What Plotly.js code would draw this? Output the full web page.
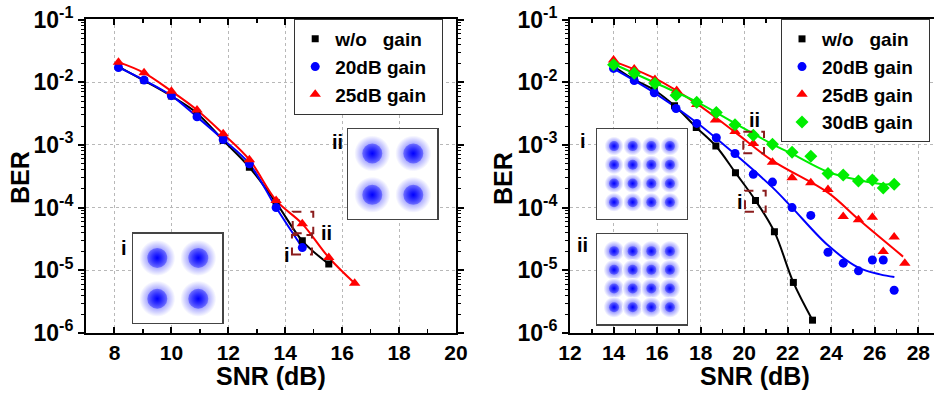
<!DOCTYPE html>
<html>
<head>
<meta charset="utf-8">
<script src="https://cdn.plot.ly/plotly-3.0.1.min.js"></script>
<style>html,body{margin:0;padding:0;background:#fff;}#chart{width:934px;height:396px;}</style>
</head>
<body>
<div id="chart"></div>
<script>
// ---------- Left panel data (SNR dB, BER) ----------
const leftWoX   = [8.14, 9.04, 10.0, 10.9, 11.82, 12.74, 13.68, 14.6, 15.53];
const leftWoY   = [0.0178, 0.0106, 0.0060, 0.0032, 0.00118, 4.4e-4, 1.2e-4, 2.95e-5, 1.26e-5];
const left20X   = [8.14, 9.04, 10.0, 10.9, 11.82, 12.74, 13.68, 14.6];
const left20Y   = [0.0172, 0.0108, 0.0061, 0.0028, 0.00122, 5.0e-4, 1.0e-4, 2.3e-5];
const left25X   = [8.14, 9.04, 10.0, 10.9, 11.82, 12.74, 13.68, 14.6, 15.53, 16.44];
const left25Y   = [0.0209, 0.0141, 0.0072, 0.0036, 0.0015, 5.8e-4, 1.3e-4, 5.5e-5, 1.6e-5, 6.2e-6];

// ---------- Right panel data ----------
const rightWoX  = [14.0, 14.95, 15.87, 16.8, 17.8, 18.7, 19.6, 20.52, 21.39, 22.26, 23.14];
const rightWoY  = [0.018, 0.011, 0.0075, 0.0042, 0.0019, 9.6e-4, 3.6e-4, 1.3e-4, 4.1e-5, 6.4e-6, 1.6e-6];
const right20X  = [14.0, 14.95, 15.87, 16.87, 17.82, 18.72, 19.58, 20.42, 21.3, 22.2, 23.06, 23.85, 24.55, 25.25, 25.89, 26.39, 26.89];
const right20Y  = [0.0166, 0.0106, 0.0068, 0.0038, 0.0022, 0.0013, 7.3e-4, 3.4e-4, 2.55e-4, 1.0e-4, 7.5e-5, 1.94e-5, 1.3e-5, 9.8e-6, 1.46e-5, 1.46e-5, 4.8e-6];
const right25X  = [14.0, 14.95, 15.9, 16.9, 17.82, 18.68, 19.58, 20.42, 21.3, 22.2, 23.06, 23.85, 24.55, 25.25, 25.89, 26.39, 26.89, 27.38];
const right25Y  = [0.0225, 0.0163, 0.011, 0.0074, 0.0044, 0.0025, 0.00163, 0.00105, 5.3e-4, 3.0e-4, 2.5e-4, 1.95e-4, 7.2e-5, 6.4e-5, 7.0e-5, 2.0e-5, 3.4e-5, 1.3e-5];
const right30X  = [14.0, 14.95, 15.9, 16.87, 17.82, 18.72, 19.58, 20.42, 21.3, 22.2, 23.06, 23.85, 24.55, 25.25, 25.89, 26.39, 26.89];
const right30Y  = [0.019, 0.0139, 0.0095, 0.0062, 0.0048, 0.0033, 0.0021, 0.00143, 0.00102, 7.6e-4, 6.6e-4, 3.5e-4, 3.3e-4, 2.65e-4, 2.75e-4, 2.05e-4, 2.35e-4];

// fitted curves
const fit20X = [14.0, 15.9, 17.8, 19.6, 21.3, 22.2, 23.85, 25.25, 26.24, 26.9];
const fit20Y = [0.0165, 0.0067, 0.0023, 7.0e-4, 2.1e-4, 1.0e-4, 2.5e-5, 1.1e-5, 8.6e-6, 7.8e-6];
const fit25X = [14.0, 15.9, 17.8, 19.58, 21.3, 23.85, 25.25, 27.3];
const fit25Y = [0.0215, 0.0115, 0.0046, 0.0016, 5.6e-4, 1.73e-4, 6.5e-5, 1.65e-5];
const fit30X = [14.0, 15.9, 17.8, 19.58, 21.35, 22.2, 23.85, 25.25, 26.39, 26.9];
const fit30Y = [0.0195, 0.0098, 0.0049, 0.0022, 1.0e-3, 7.2e-4, 3.7e-4, 2.75e-4, 2.35e-4, 2.4e-4];

// tick labels
const yTickVals = [1e-6, 1e-5, 1e-4, 1e-3, 1e-2, 1e-1];
const yTickText = ['10<sup>-6</sup>', '10<sup>-5</sup>', '10<sup>-4</sup>', '10<sup>-3</sup>', '10<sup>-2</sup>', '10<sup>-1</sup>'];

// legend labels and axis titles
const labelWo = 'w/o\u00a0\u00a0\u00a0gain\u00a0\u00a0';
const label20 = '20dB gain\u00a0\u00a0';
const label25 = '25dB gain\u00a0\u00a0';
const label30 = '30dB gain\u00a0\u00a0';
const xTitle = 'SNR (dB)';
const yTitle = 'BER';

// constellation ideal points
const qpskI = [-1, 1, -1, 1];
const qpskQ = [1, 1, -1, -1];
const qam16I = [-3, -1, 1, 3, -3, -1, 1, 3, -3, -1, 1, 3, -3, -1, 1, 3];
const qam16Q = [3, 3, 3, 3, 1, 1, 1, 1, -1, -1, -1, -1, -3, -3, -3, -3];

const BLACK = '#000000', BLUE = '#0000ff', RED = '#ff0000', GREEN = '#00ee00';
const FONT = 'Liberation Sans, Arial, sans-serif';

const traces = [];
function addLine(x, y, color, xa, ya) {
  traces.push({x, y, type: 'scatter', mode: 'lines', line: {color, width: 2, shape: 'spline', smoothing: 1},
    xaxis: xa, yaxis: ya, showlegend: false, hoverinfo: 'skip'});
}
function addMarkers(x, y, color, symbol, size, name, xa, ya, legend) {
  traces.push({x, y, type: 'scatter', mode: 'markers', name,
    marker: {color, symbol, size, line: {width: 0}}, xaxis: xa, yaxis: ya, legend});
}
// left lines
addLine(leftWoX, leftWoY, BLACK, 'x', 'y');
addLine(left20X, left20Y, BLUE, 'x', 'y');
addLine(left25X, left25Y, RED, 'x', 'y');
addMarkers(leftWoX, leftWoY, BLACK, 'square', 7, labelWo, 'x', 'y', 'legend');
addMarkers(left20X, left20Y, BLUE, 'circle', 9, label20, 'x', 'y', 'legend');
addMarkers(left25X, left25Y, RED, 'triangle-up', 10, label25, 'x', 'y', 'legend');
// right lines
addLine(rightWoX, rightWoY, BLACK, 'x2', 'y2');
addLine(fit20X, fit20Y, BLUE, 'x2', 'y2');
addLine(fit25X, fit25Y, RED, 'x2', 'y2');
addLine(fit30X, fit30Y, GREEN, 'x2', 'y2');
addMarkers(rightWoX, rightWoY, BLACK, 'square', 7, labelWo, 'x2', 'y2', 'legend2');
addMarkers(right20X, right20Y, BLUE, 'circle', 9, label20, 'x2', 'y2', 'legend2');
addMarkers(right25X, right25Y, RED, 'triangle-up', 10, label25, 'x2', 'y2', 'legend2');
addMarkers(right30X, right30Y, GREEN, 'diamond', 10, label30, 'x2', 'y2', 'legend2');

// constellation insets: radial gradient -> gradient.color is the centre colour, marker.color the rim
function addBlobs(I, Q, xa, ya, outer, inner) {
  traces.push({x: I, y: Q, type: 'scatter', mode: 'markers', xaxis: xa, yaxis: ya, showlegend: false, hoverinfo: 'skip',
    marker: {size: outer, color: '#ffffff', gradient: {type: 'radial', color: '#4a4aff'}, line: {width: 0}}});
  traces.push({x: I, y: Q, type: 'scatter', mode: 'markers', xaxis: xa, yaxis: ya, showlegend: false, hoverinfo: 'skip',
    marker: {size: inner, color: 'rgba(50,50,255,0.5)', gradient: {type: 'radial', color: 'rgba(0,0,255,1)'}, line: {width: 0}}});
}
addBlobs(qpskI, qpskQ, 'x3', 'y3', 36, 20);
addBlobs(qpskI, qpskQ, 'x4', 'y4', 36, 20);
addBlobs(qam16I, qam16Q, 'x5', 'y5', 19, 10);
addBlobs(qam16I, qam16Q, 'x6', 'y6', 21, 10);

const tickFontX = {family: FONT, size: 21, color: '#000', weight: 'bold'};
const tickFontY = {family: FONT, size: 23, color: '#000', weight: 'bold'};
const titleFont = {family: FONT, size: 25, color: '#000', weight: 'bold'};

function xAxis(domain, range, anchor) {
  return {domain, range, anchor, dtick: 2, tick0: 0, ticks: 'inside', ticklen: 6, tickwidth: 2, tickcolor: '#000',
    minor: {dtick: 1, tick0: 0, ticks: 'inside', ticklen: 3.5, tickwidth: 1.5, tickcolor: '#000', showgrid: false},
    showline: true, linewidth: 2, linecolor: '#000', mirror: 'ticks', zeroline: false,
    showgrid: true, gridcolor: '#b8b8b8', griddash: 'dot', gridwidth: 1,
    ticklabeloverflow: 'allow', tickfont: tickFontX};
}
function yAxis(domain, anchor, mirror) {
  return {domain, anchor, type: 'log', range: [-6.0005, -0.9995], tickmode: 'array', tickvals: yTickVals, ticktext: yTickText,
    ticks: 'outside', ticklen: 6, tickwidth: 2, tickcolor: '#000',
    minor: {ticks: 'outside', ticklen: 3, tickwidth: 1, tickcolor: '#000', dtick: 'D1', showgrid: false},
    showline: true, linewidth: 2, linecolor: '#000', mirror, zeroline: false,
    showgrid: true, gridcolor: '#b8b8b8', griddash: 'dot', gridwidth: 1,
    ticklabeloverflow: 'allow', tickfont: tickFontY};
}
function insetAxis(domain, range, anchor) {
  return {domain, range, anchor, showgrid: false, zeroline: false, showticklabels: false, ticks: '',
    showline: true, mirror: true, linecolor: '#444', linewidth: 1.5, fixedrange: true};
}

const labelFont = {family: FONT, size: 20, color: '#000', weight: 'bold'};
const annotations = [
  ['i', 0.1328, 0.3737], ['ii', 0.3611, 0.6422], ['ii', 0.3501, 0.4116], ['i', 0.3070, 0.3561],
  ['i', 0.6240, 0.6450], ['ii', 0.6240, 0.3810], ['ii', 0.8073, 0.6970], ['i', 0.7923, 0.4907]
].map(([t, x, y]) => ({text: t, x, y, xref: 'paper', yref: 'paper', showarrow: false,
  font: labelFont, xanchor: 'center', yanchor: 'middle'}));
// axis titles
annotations.push({text: xTitle, x: 271 / 934, y: 1 - 376 / 396, xref: 'paper', yref: 'paper', showarrow: false, font: titleFont, xanchor: 'center', yanchor: 'middle'});
annotations.push({text: xTitle, x: 755 / 934, y: 1 - 376 / 396, xref: 'paper', yref: 'paper', showarrow: false, font: titleFont, xanchor: 'center', yanchor: 'middle'});
annotations.push({text: yTitle, x: 20 / 934, y: 1 - 178 / 396, xref: 'paper', yref: 'paper', showarrow: false, textangle: -90, font: titleFont, xanchor: 'center', yanchor: 'middle'});
annotations.push({text: yTitle, x: 503 / 934, y: 1 - 178 / 396, xref: 'paper', yref: 'paper', showarrow: false, textangle: -90, font: titleFont, xanchor: 'center', yanchor: 'middle'});

const yDom = [0.1591, 0.9508];
const layout = {
  width: 934, height: 396,
  margin: {l: 0, r: 0, t: 0, b: 0},
  paper_bgcolor: '#fff', plot_bgcolor: '#fff',
  font: {family: FONT, color: '#000'},
  xaxis: xAxis([0.0921, 0.4882], [7, 20], 'y'),
  yaxis: yAxis(yDom, 'x', 'ticks'),
  xaxis2: xAxis([0.6103, 1], [12, 28.72], 'y2'),
  yaxis2: yAxis(yDom, 'x2', false),
  xaxis3: insetAxis([0.1427, 0.2380], [-2.17, 2.17], 'y3'),
  yaxis3: insetAxis([0.1851, 0.4091], [-2.17, 2.17], 'x3'),
  xaxis4: insetAxis([0.3729, 0.4682], [-2.17, 2.17], 'y4'),
  yaxis4: insetAxis([0.4470, 0.6735], [-2.17, 2.17], 'x4'),
  xaxis5: insetAxis([0.6395, 0.7352], [-4.8, 4.8], 'y5'),
  yaxis5: insetAxis([0.4470, 0.6735], [-4.8, 4.8], 'x5'),
  xaxis6: insetAxis([0.6395, 0.7352], [-4.8, 4.8], 'y6'),
  yaxis6: insetAxis([0.1818, 0.4083], [-4.8, 4.8], 'x6'),
  legend: {x: 0.315, y: 0.952, xanchor: 'left', yanchor: 'top', bgcolor: '#fff', bordercolor: '#333', borderwidth: 1,
    font: {family: FONT, size: 19, color: '#000', weight: 'bold'}, tracegroupgap: 0, itemwidth: 30},
  legend2: {x: 0.8362, y: 0.952, xanchor: 'left', yanchor: 'top', bgcolor: '#fff', bordercolor: '#333', borderwidth: 1,
    font: {family: FONT, size: 19, color: '#000', weight: 'bold'}, tracegroupgap: 0, itemwidth: 30},
  shapes: [
    {type: 'rect', xref: 'paper', yref: 'paper', x0: 0.3134, x1: 0.3354, y0: 0.4109, y1: 0.4654, line: {color: '#8b1c1c', width: 2, dash: 'dash'}},
    {type: 'rect', xref: 'paper', yref: 'paper', x0: 0.3126, x1: 0.3340, y0: 0.3573, y1: 0.4066, line: {color: '#8b1c1c', width: 2, dash: 'dash'}},
    {type: 'rect', xref: 'paper', yref: 'paper', x0: 0.7958, x1: 0.8180, y0: 0.6129, y1: 0.6674, line: {color: '#8b1c1c', width: 2, dash: 'dash'}},
    {type: 'rect', xref: 'paper', yref: 'paper', x0: 0.7976, x1: 0.8198, y0: 0.4654, y1: 0.5184, line: {color: '#8b1c1c', width: 2, dash: 'dash'}}
  ],
  annotations
};

Plotly.newPlot('chart', traces, layout, {displayModeBar: false, staticPlot: true});
</script>
</body>
</html>
